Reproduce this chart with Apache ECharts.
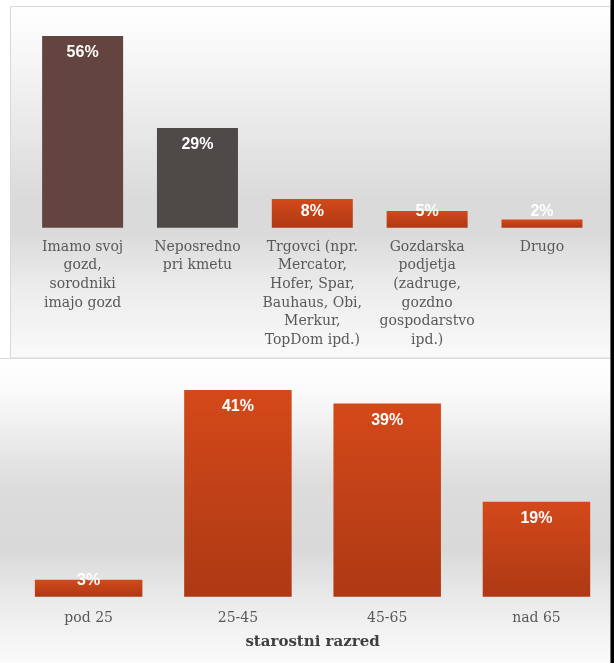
<!DOCTYPE html>
<html>
<head>
<meta charset="utf-8">
<script src="https://cdn.jsdelivr.net/npm/echarts@6/dist/echarts.min.js"></script>
<style>
html,body{margin:0;padding:0;background:#fff;}
#chart{width:614px;height:663px;}
</style>
</head>
<body>
<div id="chart"></div>
<script>
// ---- data ----
const sourceCategories = [
  'Imamo svoj\ngozd,\nsorodniki\nimajo gozd',
  'Neposredno\npri kmetu',
  'Trgovci (npr.\nMercator,\nHofer, Spar,\nBauhaus, Obi,\nMerkur,\nTopDom ipd.)',
  'Gozdarska\npodjetja\n(zadruge,\ngozdno\ngospodarstvo\nipd.)',
  'Drugo'
];
const sourceValues = [56, 29.1, 8.4, 4.9, 2.4];

const ageCategories = ['pod 25', '25-45', '45-65', 'nad 65'];
const ageValues = [3.4, 41.4, 38.7, 19.0];
const ageAxisName = 'starostni razred';

// ---- styles ----
const orangeGrad = new echarts.graphic.LinearGradient(0, 0, 0, 1, [
  {offset: 0, color: '#d4491a'},
  {offset: 1, color: '#ad3914'}
]);
const sourceColors = ['#63443f', '#4f4a48', orangeGrad, orangeGrad, orangeGrad];

const labelBase = {
  show: true,
  color: '#ffffff',
  fontFamily: 'Liberation Sans, Arial, sans-serif',
  fontWeight: 'bold',
  fontSize: 16,
  lineHeight: 16,
  formatter: p => Math.round(p.value) + '%'
};

function buildItems(values, colors, smallLimit) {
  return values.map((v, i) => ({
    value: v,
    itemStyle: {color: colors ? colors[i] : orangeGrad},
    label: v < smallLimit
      ? {position: 'insideBottom', distance: 8}
      : {position: 'insideTop', distance: 9}
  }));
}

const chart = echarts.init(document.getElementById('chart'), null, {renderer: 'canvas'});

const option = {
  animation: false,
  backgroundColor: '#ffffff',
  graphic: [
    {
      type: 'rect', z: -10, silent: true,
      shape: {x: 10.5, y: 6.5, width: 600, height: 351.5},
      style: {
        fill: new echarts.graphic.LinearGradient(0, 0, 0, 1, [
          {offset: 0, color: '#ffffff'},
          {offset: 0.12, color: '#f8f8f8'},
          {offset: 0.55, color: '#dadada'},
          {offset: 0.64, color: '#dadada'},
          {offset: 0.8, color: '#ececec'},
          {offset: 1, color: '#fafafa'}
        ]),
        stroke: '#d9d9d9', lineWidth: 1
      }
    },
    {
      type: 'rect', z: -10, silent: true,
      shape: {x: -1, y: 358.5, width: 612, height: 306},
      style: {
        fill: new echarts.graphic.LinearGradient(0, 0, 0, 1, [
          {offset: 0, color: '#ffffff'},
          {offset: 0.1, color: '#fbfbfb'},
          {offset: 0.42, color: '#dcdcdc'},
          {offset: 0.62, color: '#d9d9d9'},
          {offset: 0.8, color: '#ebebeb'},
          {offset: 1, color: '#fbfbfb'}
        ]),
        stroke: '#d9d9d9', lineWidth: 1
      }
    },
    {
      type: 'rect', z: 50, silent: true,
      shape: {x: 610.5, y: 0, width: 4, height: 663},
      style: {fill: '#000000'}
    }
  ],
  grid: [
    {left: 25.2, right: 14.6, top: 22.3, height: 205.4, containLabel: false},
    {left: 14, right: 2.9, top: 372, height: 224.7, containLabel: false}
  ],
  xAxis: [
    {
      type: 'category', gridIndex: 0, data: sourceCategories,
      axisLine: {show: false}, axisTick: {show: false}, splitLine: {show: false},
      axisLabel: {
        interval: 0, margin: 10, color: '#595959',
        fontFamily: 'DejaVu Serif, serif', fontSize: 14, lineHeight: 18.7
      }
    },
    {
      type: 'category', gridIndex: 1, data: ageCategories,
      axisLine: {show: false}, axisTick: {show: false}, splitLine: {show: false},
      axisLabel: {
        interval: 0, margin: 12, color: '#595959',
        fontFamily: 'DejaVu Serif, serif', fontSize: 14, lineHeight: 19
      },
      name: ageAxisName, nameLocation: 'middle', nameGap: 38,
      nameTextStyle: {
        color: '#404040', fontFamily: 'DejaVu Serif, serif',
        fontWeight: 'bold', fontSize: 15
      }
    }
  ],
  yAxis: [
    {type: 'value', gridIndex: 0, min: 0, max: 60, show: false, splitLine: {show: false}},
    {type: 'value', gridIndex: 1, min: 0, max: 45, show: false, splitLine: {show: false}}
  ],
  series: [
    {
      type: 'bar', xAxisIndex: 0, yAxisIndex: 0, barWidth: 81,
      data: buildItems(sourceValues, sourceColors, 10),
      label: labelBase
    },
    {
      type: 'bar', xAxisIndex: 1, yAxisIndex: 1, barWidth: 107.5,
      data: buildItems(ageValues, null, 10),
      label: labelBase
    }
  ]
};

chart.setOption(option);
</script>
</body>
</html>
